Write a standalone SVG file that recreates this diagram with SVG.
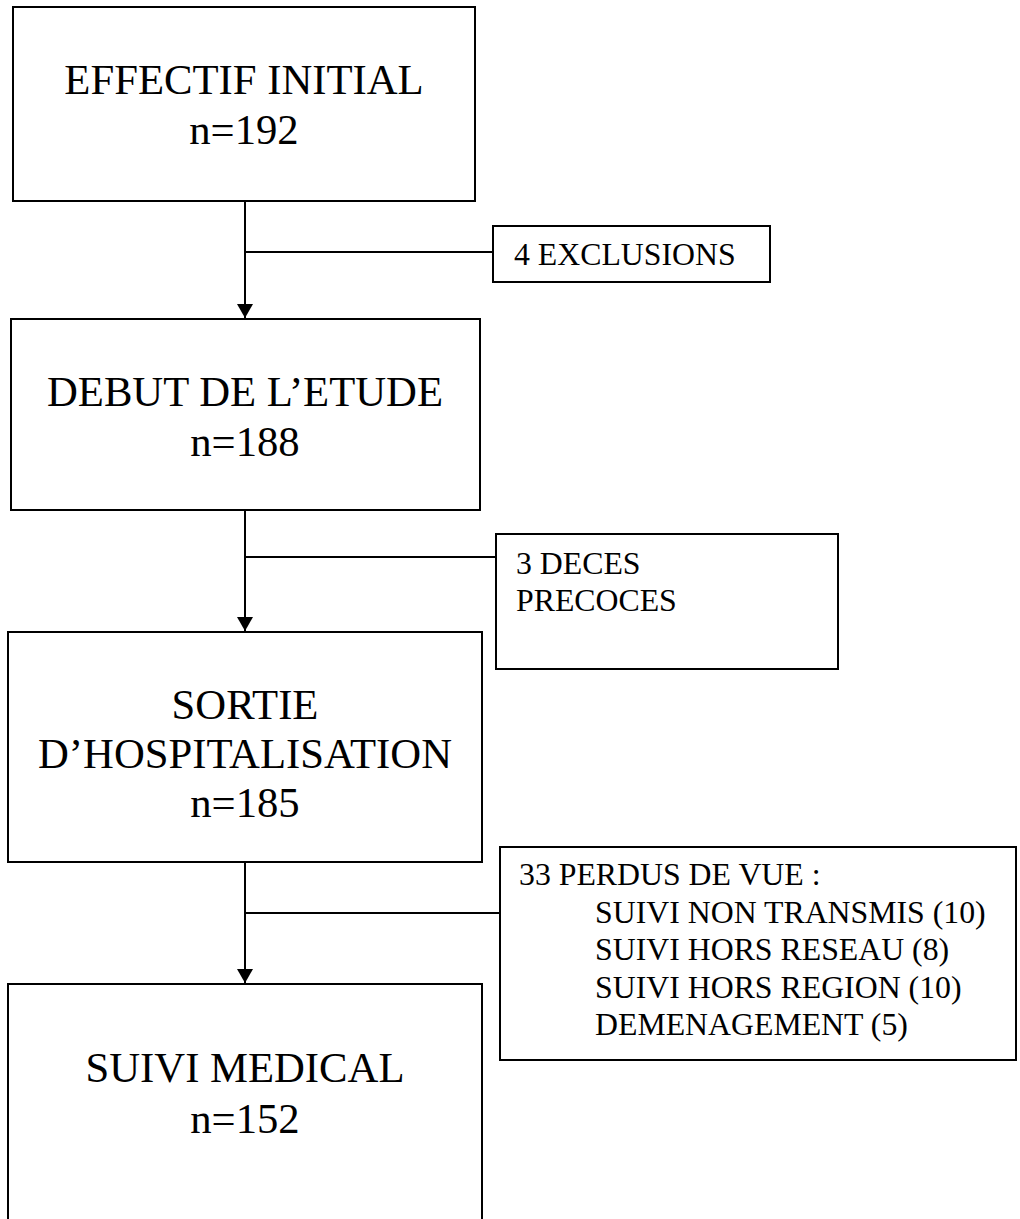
<svg xmlns="http://www.w3.org/2000/svg" width="1020" height="1219" viewBox="0 0 1020 1219">
<style>
.box{fill:#fff;stroke:#000;stroke-width:2}
.big{font-family:"Liberation Serif","Times New Roman",serif;font-size:42.7px;fill:#000;text-anchor:middle}
.small{font-family:"Liberation Serif","Times New Roman",serif;font-size:31.8px;fill:#000}
.conn{fill:none;stroke:#000;stroke-width:2}
</style>
<defs>
<marker id="arr" viewBox="0 0 14 16" refX="14" refY="8" markerWidth="14" markerHeight="16" markerUnits="userSpaceOnUse" orient="auto">
<path d="M0,0 L14,8 L0,16 z" fill="#000"/>
</marker>
</defs>
<rect width="1020" height="1219" fill="#fff"/>
<g id="connectors">
<line class="conn" x1="245" y1="201" x2="245" y2="318" marker-end="url(#arr)"/>
<line class="conn" x1="245" y1="252" x2="493" y2="252"/>
<line class="conn" x1="245" y1="510" x2="245" y2="631" marker-end="url(#arr)"/>
<line class="conn" x1="245" y1="557" x2="496" y2="557"/>
<line class="conn" x1="245" y1="862" x2="245" y2="983" marker-end="url(#arr)"/>
<line class="conn" x1="245" y1="913" x2="500" y2="913"/>
</g>
<g id="n1">
<rect class="box" x="13" y="7" width="462" height="194"/>
<text class="big" x="244" y="94">EFFECTIF INITIAL</text>
<text class="big" x="244" y="144">n=192</text>
</g>
<g id="n_excl">
<rect class="box" x="493" y="226" width="277" height="56"/>
<text class="small" x="514" y="265">4 EXCLUSIONS</text>
</g>
<g id="n2">
<rect class="box" x="11" y="319" width="469" height="191"/>
<text class="big" x="245" y="406">DEBUT DE L’ETUDE</text>
<text class="big" x="245" y="456">n=188</text>
</g>
<g id="n_deces">
<rect class="box" x="496" y="534" width="342" height="135"/>
<text class="small" x="516" y="574">3 DECES</text>
<text class="small" x="516" y="611">PRECOCES</text>
</g>
<g id="n3">
<rect class="box" x="8" y="632" width="474" height="230"/>
<text class="big" x="245" y="719">SORTIE</text>
<text class="big" x="245" y="768">D’HOSPITALISATION</text>
<text class="big" x="245" y="817">n=185</text>
</g>
<g id="n_perdus">
<rect class="box" x="500" y="847" width="516" height="213"/>
<text class="small" x="519" y="885">33 PERDUS DE VUE :</text>
<text class="small" x="595" y="923">SUIVI NON TRANSMIS (10)</text>
<text class="small" x="595" y="960">SUIVI HORS RESEAU (8)</text>
<text class="small" x="595" y="998">SUIVI HORS REGION (10)</text>
<text class="small" x="595" y="1035">DEMENAGEMENT (5)</text>
</g>
<g id="n4">
<rect class="box" x="8" y="984" width="474" height="260"/>
<text class="big" x="245" y="1082">SUIVI MEDICAL</text>
<text class="big" x="245" y="1133">n=152</text>
</g>
</svg>
